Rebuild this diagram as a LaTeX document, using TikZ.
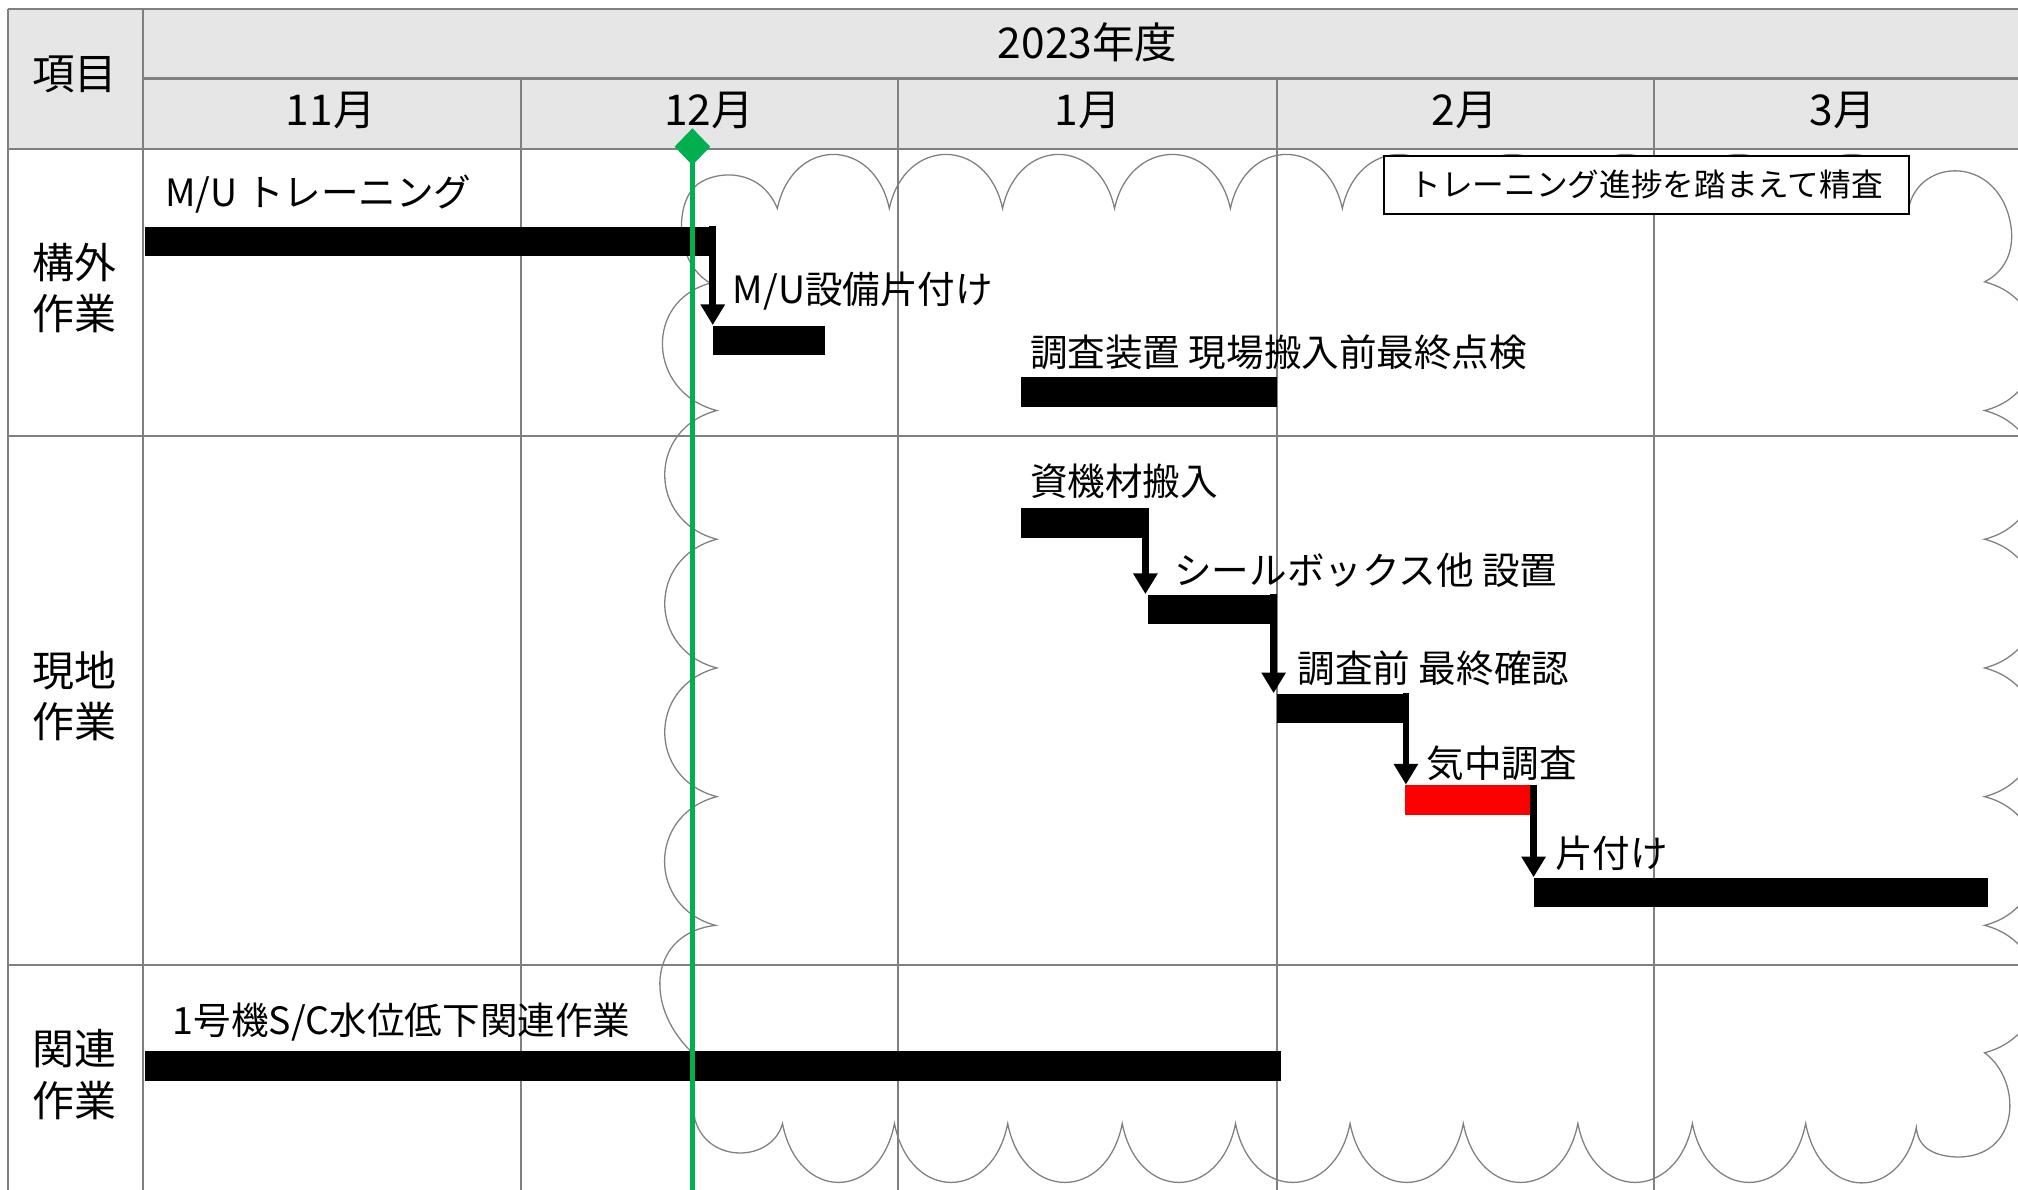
\documentclass[tikz,border=0pt]{standalone}
\usepackage{fontspec}
\setmainfont{Noto Sans CJK JP}
\usetikzlibrary{arrows.meta,shapes.geometric,fit}
\definecolor{gridc}{RGB}{128,128,128}
\definecolor{hdrfill}{RGB}{230,230,230}
\definecolor{grn}{RGB}{0,176,80}
\definecolor{cloudc}{RGB}{128,128,128}
\begin{document}
\begin{tikzpicture}[x=0.5pt,y=-0.5pt,
  gridline/.style={draw=gridc,line width=0.9pt},
  hdrtext/.style={font=\fontsize{16.5pt}{20pt}\selectfont, inner sep=0pt},
  rowlabel/.style={font=\fontsize{16.3pt}{20pt}\selectfont, align=center, inner sep=0pt},
  tasklabel/.style={font=\fontsize{14.6pt}{17pt}\selectfont, anchor=west, inner sep=0pt},
  bar/.style={fill=black, inner sep=0pt, draw=none},
  redbar/.style={fill=red, inner sep=0pt, draw=none},
  arr/.style={line width=2.6pt, -{Triangle[width=9pt,length=8pt]}},
  cloudline/.style={draw=cloudc, line width=0.5pt},
  notebox/.style={draw=black, line width=0.8pt, fill=white, inner sep=0pt,
    minimum width=204pt, minimum height=22.5pt, font=\fontsize{12.3pt}{15pt}\selectfont},
  greenline/.style={draw=grn, line width=2.2pt},
  milestone/.style={diamond, fill=grn, inner sep=0pt, minimum width=14pt, minimum height=14.5pt}
]
\useasboundingbox (0,0) rectangle (1568,924);
\clip (0,0) rectangle (1568,924);

% header background
\fill[hdrfill] (6,7) rectangle (1580,116);

% grid
\draw[gridline] (6,7) -- (1580,7);
\draw[gridline] (6,7) -- (6,930);
\draw[gridline] (111,7) -- (111,930);
\draw[gridline] (111,61) -- (1580,61);
\foreach \x in {405,698,992,1285} \draw[gridline] (\x,61) -- (\x,930);
\foreach \y in {116,339,750} \draw[gridline] (6,\y) -- (1580,\y);

% header texts
\node[hdrtext] (h0) at (58,58) {項目};
\node[hdrtext] (hy) at (845,33) {2023年度};
\node[hdrtext] (m11) at (257,86) {11月};
\node[hdrtext] (m12) at (551,86) {12月};
\node[hdrtext] (m1) at (845,86) {1月};
\node[hdrtext] (m2) at (1138,86) {2月};
\node[hdrtext] (m3) at (1432,86) {3月};

% row labels
\node[rowlabel] (r1) at (58,224) {構外\\作業};
\node[rowlabel] (r2) at (58,541) {現地\\作業};
\node[rowlabel] (r3) at (58,835) {関連\\作業};

% cloud
\draw[cloudline] (552,220)
  .. controls (525,205) and (524,160) .. (540,145)
  .. controls (552,133) and (590,128) .. (604,162)
  \foreach \a/\b in {604/691,691/779,779/866,866/956,956/1043,1043/1131,1131/1219,1219/1307,1307/1395,1395/1483}
    { .. controls (\a+12,106) and (\b-12,106) .. (\b,162) }
  .. controls (1490,125) and (1545,120) .. (1560,165)
  .. controls (1568,190) and (1560,210) .. (1542,219)
  \foreach \p/\q in {219/319,319/419,419/519,519/619,619/719,719/818}
    { .. controls (1596,\p+14) and (1596,\q-14) .. (1542,\q) }
  .. controls (1572,840) and (1570,900) .. (1520,899)
  .. controls (1500,898) and (1490,890) .. (1489,876)
  \foreach \a/\b in {1489/1403,1403/1315,1315/1226,1226/1137,1137/1049,1049/960,960/872,872/783,783/695,695/608}
    { .. controls (\a-12,934) and (\b+12,934) .. (\b,873) }
  .. controls (600,903) and (550,905) .. (540,870)
  .. controls (536,845) and (536,830) .. (536,816)
  .. controls (500,780) and (505,725) .. (556,719)
  \foreach \p/\q in {719/619,619/519,519/419,419/319}
    { .. controls (503,\p-14) and (503,\q+14) .. (557,\q) }
  .. controls (503,305) and (500,234) .. (552,220) -- cycle;

% bars
\node[bar, fit={(113,176) (556,199)}] (b1) {};
\node[bar, fit={(554,253) (641,276)}] (b2) {};
\node[bar, fit={(793,293) (992,316)}] (b3) {};
\node[bar, fit={(793,395) (892,418)}] (b4) {};
\node[bar, fit={(892,462) (992,485)}] (b5) {};
\node[bar, fit={(992,539) (1094,562)}] (b6) {};
\node[redbar, fit={(1092,610) (1191,633)}] (b7) {};
\node[bar, fit={(1192,682) (1545,705)}] (b8) {};
\node[bar, fit={(113,817) (995,840)}] (b9) {};

% arrows
\draw[arr] ([xshift=-1.3pt]b1.north east) -- ([xshift=-1.3pt]b1.north east |- b2.north);
\draw[arr] ([xshift=-1.2pt]b4.north east) -- ([xshift=-1.2pt]b4.north east |- b5.north);
\draw[arr] ([xshift=-1.4pt]b5.north east) -- ([xshift=-1.4pt]b5.north east |- b6.north);
\draw[arr] ([xshift=-1.0pt]b6.north east) -- ([xshift=-1.0pt]b6.north east |- b7.north);
\draw[arr] (b8.north west |- b7.north) -- (b8.north west);

% task labels
\node[tasklabel] (l1) at (128,151) {M/U トレーニング};
\node[tasklabel] (l2) at (569,226) {M/U設備片付け};
\node[tasklabel] (l3) at (800,274) {調査装置 現場搬入前最終点検};
\node[tasklabel] (l4) at (800,374) {資機材搬入};
\node[tasklabel] (l5) at (912,443) {シールボックス他 設置};
\node[tasklabel] (l6) at (1008,519) {調査前 最終確認};
\node[tasklabel] (l7) at (1108,593) {気中調査};
\node[tasklabel] (l8) at (1208,663) {片付け};
\node[tasklabel] (l9) at (134,794) {1号機S/C水位低下関連作業};

% note box
\node[notebox] (note) at (1279,143.5) {トレーニング進捗を踏まえて精査};

% today line
\coordinate (gtop) at (538,114);
\coordinate (gend) at (538,930);
\draw[greenline] (gtop) -- (gend);
\node[milestone] (ms) at (gtop) {};
\end{tikzpicture}
\end{document}
